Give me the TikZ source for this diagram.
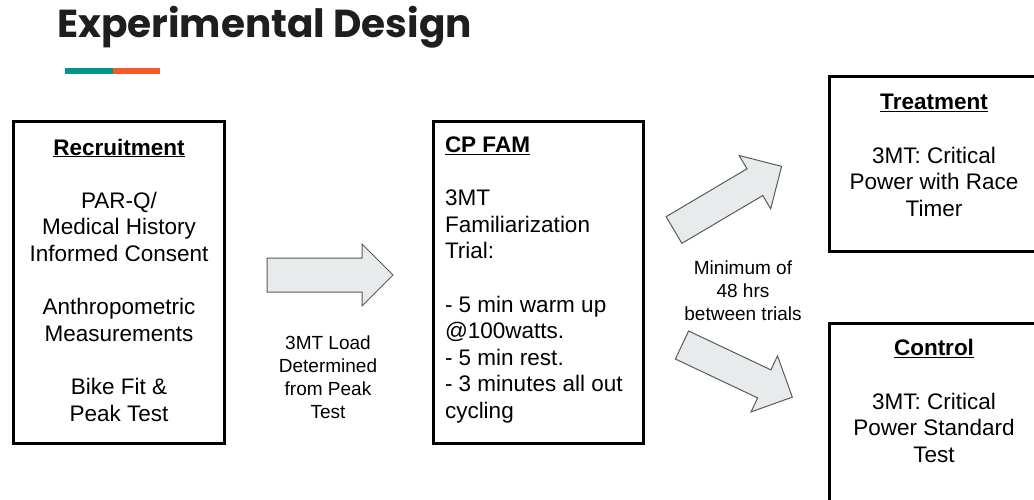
\documentclass[tikz,border=0pt]{standalone}
\usepackage{fontspec}
\setmainfont{Liberation Sans}
\newfontfamily\headfont{Poppins}
\definecolor{ink}{RGB}{30,30,30}
\definecolor{barteal}{RGB}{0,150,136}
\definecolor{barorange}{RGB}{244,90,42}
\definecolor{arrowfill}{RGB}{232,235,236}
\definecolor{arrowedge}{RGB}{90,90,90}
\usetikzlibrary{positioning}
\tikzstyle{base}=[inner sep=0pt, outer sep=0pt]
\tikzstyle{stage}=[draw=black, line width=3pt]
\tikzstyle{bigtext}=[font=\fontsize{22.5}{26.6}\selectfont, align=center]
\tikzstyle{smalltext}=[font=\fontsize{19}{23}\selectfont, align=center]
\tikzstyle{fat}=[draw=arrowedge, fill=arrowfill, line width=1pt]
\newlength{\skipline}
\setlength{\skipline}{26.6pt}
% block arrow: tail point, angle, length, half shaft width
\newcommand*{\fatarrow}[4]{%
  \draw [fat, shift={(#1)}, rotate=#2] (0,-#4) -- (#3-31,-#4) -- (#3-31,-31)
    -- (#3,0) -- (#3-31,31) -- (#3-31,#4) -- (0,#4) -- cycle;}

\begin{document}
\begin{tikzpicture}[base, x=1pt, y=-1pt]
    \useasboundingbox (0,0) rectangle (1034,499);
    \clip (0,0) rectangle (1034,499);
    % heading
    \node [anchor=base west, text=ink, font=\headfont\bfseries\fontsize{39}{46}\selectfont] (title) at (57,37) {Experimental Design};
    \fill [barteal] (65,68) rectangle (113,74);
    \fill [barorange] (113,68) rectangle (160,74);
    % stage boxes
    \draw [stage] (13.5,121.5) rectangle (224.5,443.5);
    \draw [stage] (433.5,121.5) rectangle (643.5,443.5);
    \draw [stage] (829.5,76.5) rectangle (1045,251.5);
    \draw [stage] (829.5,323.5) rectangle (1045,520);
    \node [bigtext] (recruit) at (119,280) {\underline{\textbf{Recruitment}}\\[\skipline]
        PAR-Q/\\Medical History\\Informed Consent\\[\skipline]
        Anthropometric\\Measurements\\[\skipline]
        Bike Fit \&\\Peak Test};
    \node [bigtext, align=left, anchor=west] (fam) at (445,280) {\underline{\textbf{CP FAM}}\\[\skipline]
        3MT\\Familiarization\\Trial:\\[\skipline]
        - 5 min warm up\\@100watts.\\- 5 min rest.\\- 3 minutes all out\\cycling};
    \node [bigtext] (treat) at (934,155.5) {\underline{\textbf{Treatment}}\\[\skipline]
        3MT: Critical\\Power with Race\\Timer};
    \node [bigtext] (ctrl) at (934,401) {\underline{\textbf{Control}}\\[\skipline]
        3MT: Critical\\Power Standard\\Test};
    % notes between stages
    \node [smalltext] (loadnote) at (328,377.5) {3MT Load\\Determined\\from Peak\\Test};
    \node [smalltext] (restnote) at (743,291) {Minimum of\\48 hrs\\between trials};
    % block arrows
    \coordinate (loadtail) at (267,275);
    \coordinate (uptail) at (674,230);
    \coordinate (downtail) at (682,345);
    \fatarrow{loadtail}{0}{126}{17}
    \fatarrow{uptail}{30.6}{125}{15.5}
    \fatarrow{downtail}{-25.3}{122}{15.5}
\end{tikzpicture}
\end{document}
